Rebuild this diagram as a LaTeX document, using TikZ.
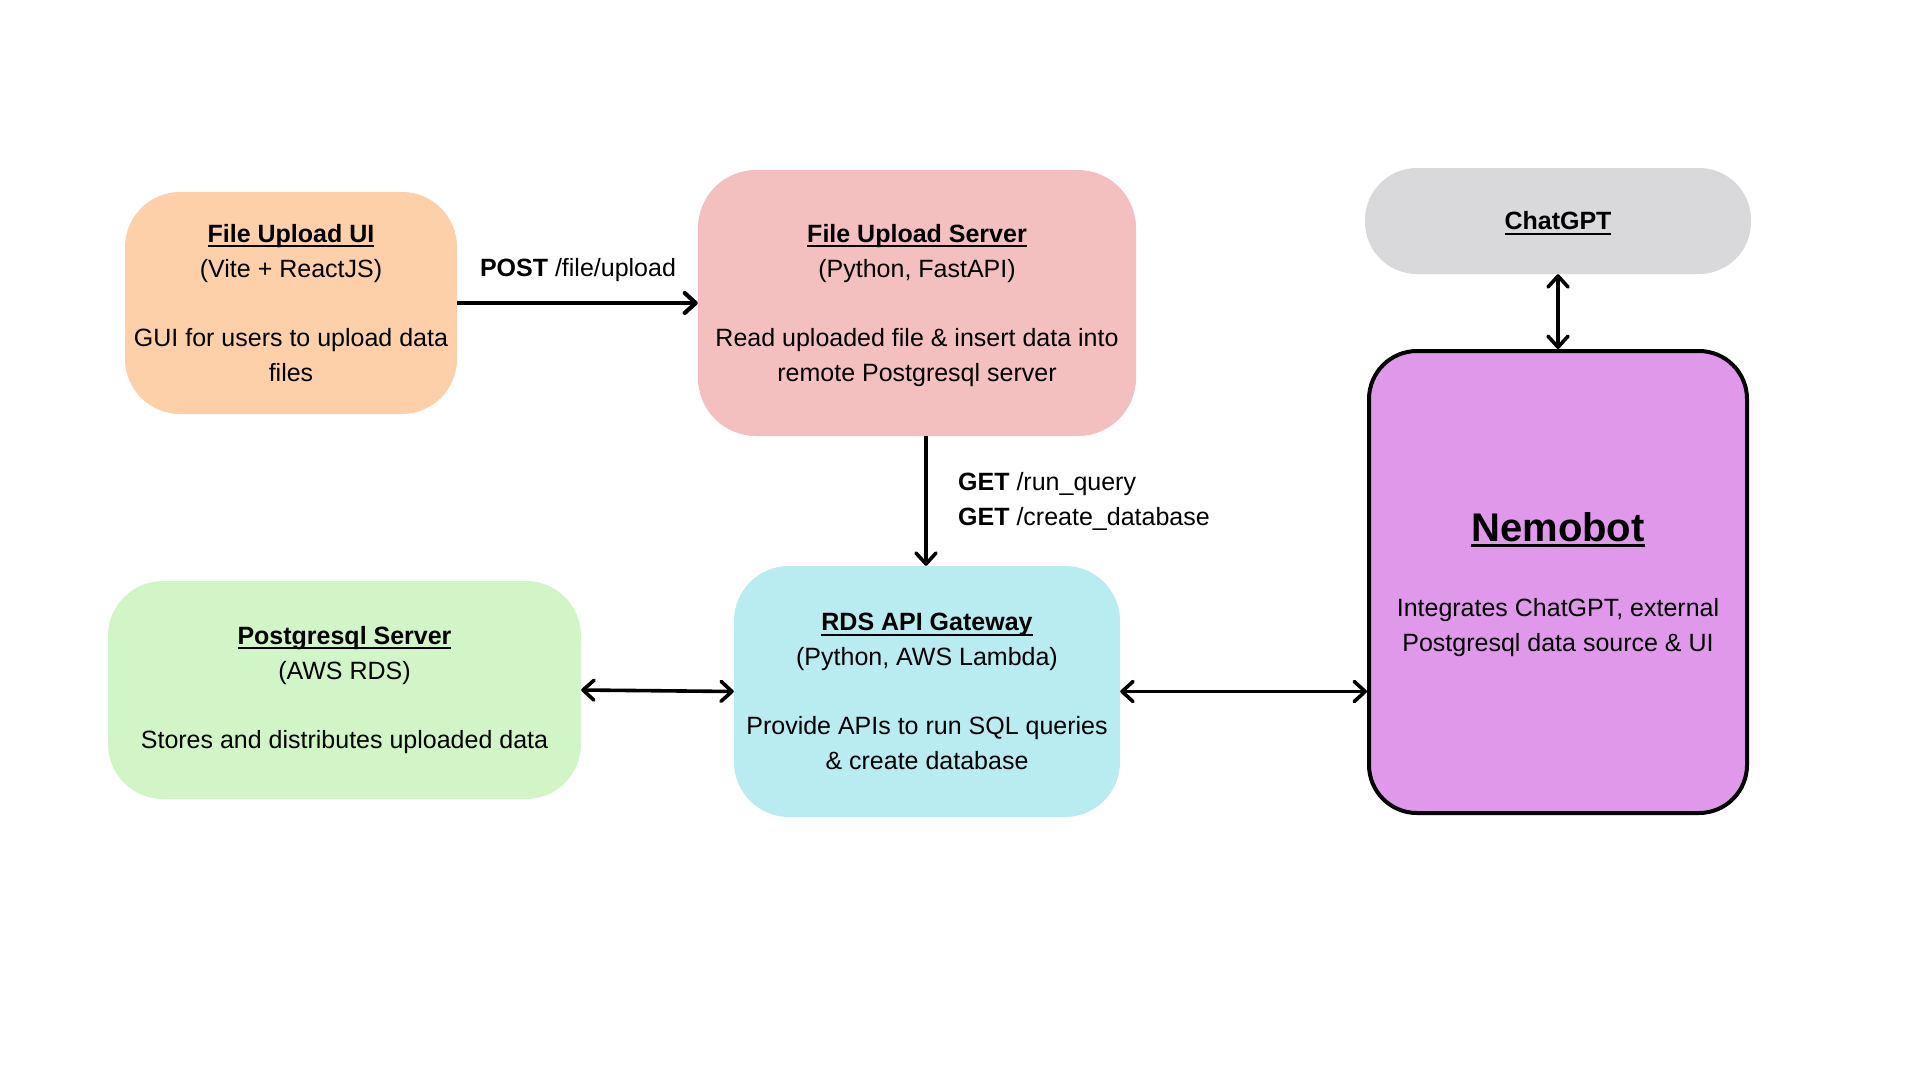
\documentclass[tikz,border=0pt]{standalone}
\usepackage{fontspec}
\setmainfont{Liberation Sans}
\usetikzlibrary{arrows.meta}
\definecolor{cOrange}{RGB}{253,208,170}
\definecolor{cPink}{RGB}{244,191,191}
\definecolor{cGray}{RGB}{217,217,219}
\definecolor{cPurple}{RGB}{224,153,234}
\definecolor{cGreen}{RGB}{209,245,199}
\definecolor{cBlue}{RGB}{184,236,240}
\newcommand\myul[1]{\setbox0\hbox{#1}\rlap{\smash{\rule[-4.7pt]{\wd0}{2pt}}}\box0}
\newcommand\myulbig[1]{\setbox0\hbox{#1}\rlap{\smash{\rule[-5.5pt]{\wd0}{3.6pt}}}\box0}
\tikzset{
  box/.style={rounded corners=55pt, inner sep=0pt, align=center, text=black,
    font=\fontsize{25}{34.6}\selectfont},
  lbl/.style={inner sep=0pt, text=black, font=\fontsize{25}{34.6}\selectfont},
  conn/.style={line width=3.6pt, draw=black},
  >={Straight Barb[length=11pt,width=20pt,round]}
}
\begin{document}
\begin{tikzpicture}[x=1pt,y=-1pt]
\fill[white] (0,0) rectangle (1920,1080);
\useasboundingbox (0,0) rectangle (1920,1080);

\node[box, fill=cOrange, minimum width=332pt, minimum height=222pt] (ui) at (291,303)
  {\textbf{\myul{File Upload UI}}\\(Vite + ReactJS)\\[34.6pt]GUI for users to upload data\\files};

\node[box, fill=cPink, rounded corners=58pt, minimum width=438pt, minimum height=266pt] (srv) at (917,303)
  {\rule{0pt}{23pt}\textbf{\myul{File Upload Server}}\\(Python, FastAPI)\\[34.6pt]Read uploaded file \& insert data into\\remote Postgresql server};

\node[box, fill=cGray, rounded corners=52pt, minimum width=386pt, minimum height=106pt] (chat) at (1558,221)
  {\textbf{\myul{ChatGPT}}};

\node[box, fill=cPurple, draw=black, line width=4pt, rounded corners=48pt, minimum width=378pt, minimum height=462pt] (nemo) at (1558,582)
  {\rule{0pt}{34pt}{\fontsize{40}{48}\selectfont\bfseries\myulbig{Nemobot}}\\[40.4pt]Integrates ChatGPT, external\\Postgresql data source \& UI};

\node[box, fill=cGreen, minimum width=473pt, minimum height=218pt] (pg) at (344.5,690)
  {\textbf{\myul{Postgresql Server}}\\(AWS RDS)\\[34.6pt]Stores and distributes uploaded data};

\node[box, fill=cBlue, minimum width=386pt, minimum height=251pt] (rds) at (927,691.5)
  {\textbf{\myul{RDS API Gateway}}\\(Python, AWS Lambda)\\[34.6pt]Provide APIs to run SQL queries\\\& create database};

\node[lbl, anchor=base] (postlbl) at (578,276) {\textbf{POST} /file/upload};
\node[lbl, anchor=north west, align=left] (getlbl) at (958,472.5)
  {\textbf{GET} /run\_query\\\textbf{GET} /create\_database};

\draw[conn, line width=4.2pt, ->] (ui.east) -- (srv.west);
\draw[conn, ->] (srv.south -| 926,0) -- (rds.north -| 926,0);
\draw[conn, <->] (pg.east) -- (rds.west);
\draw[conn, <->] (rds.east) -- (rds.east -| nemo.west);
\draw[conn, <->] (chat.south) -- (nemo.north);
\end{tikzpicture}
\end{document}
